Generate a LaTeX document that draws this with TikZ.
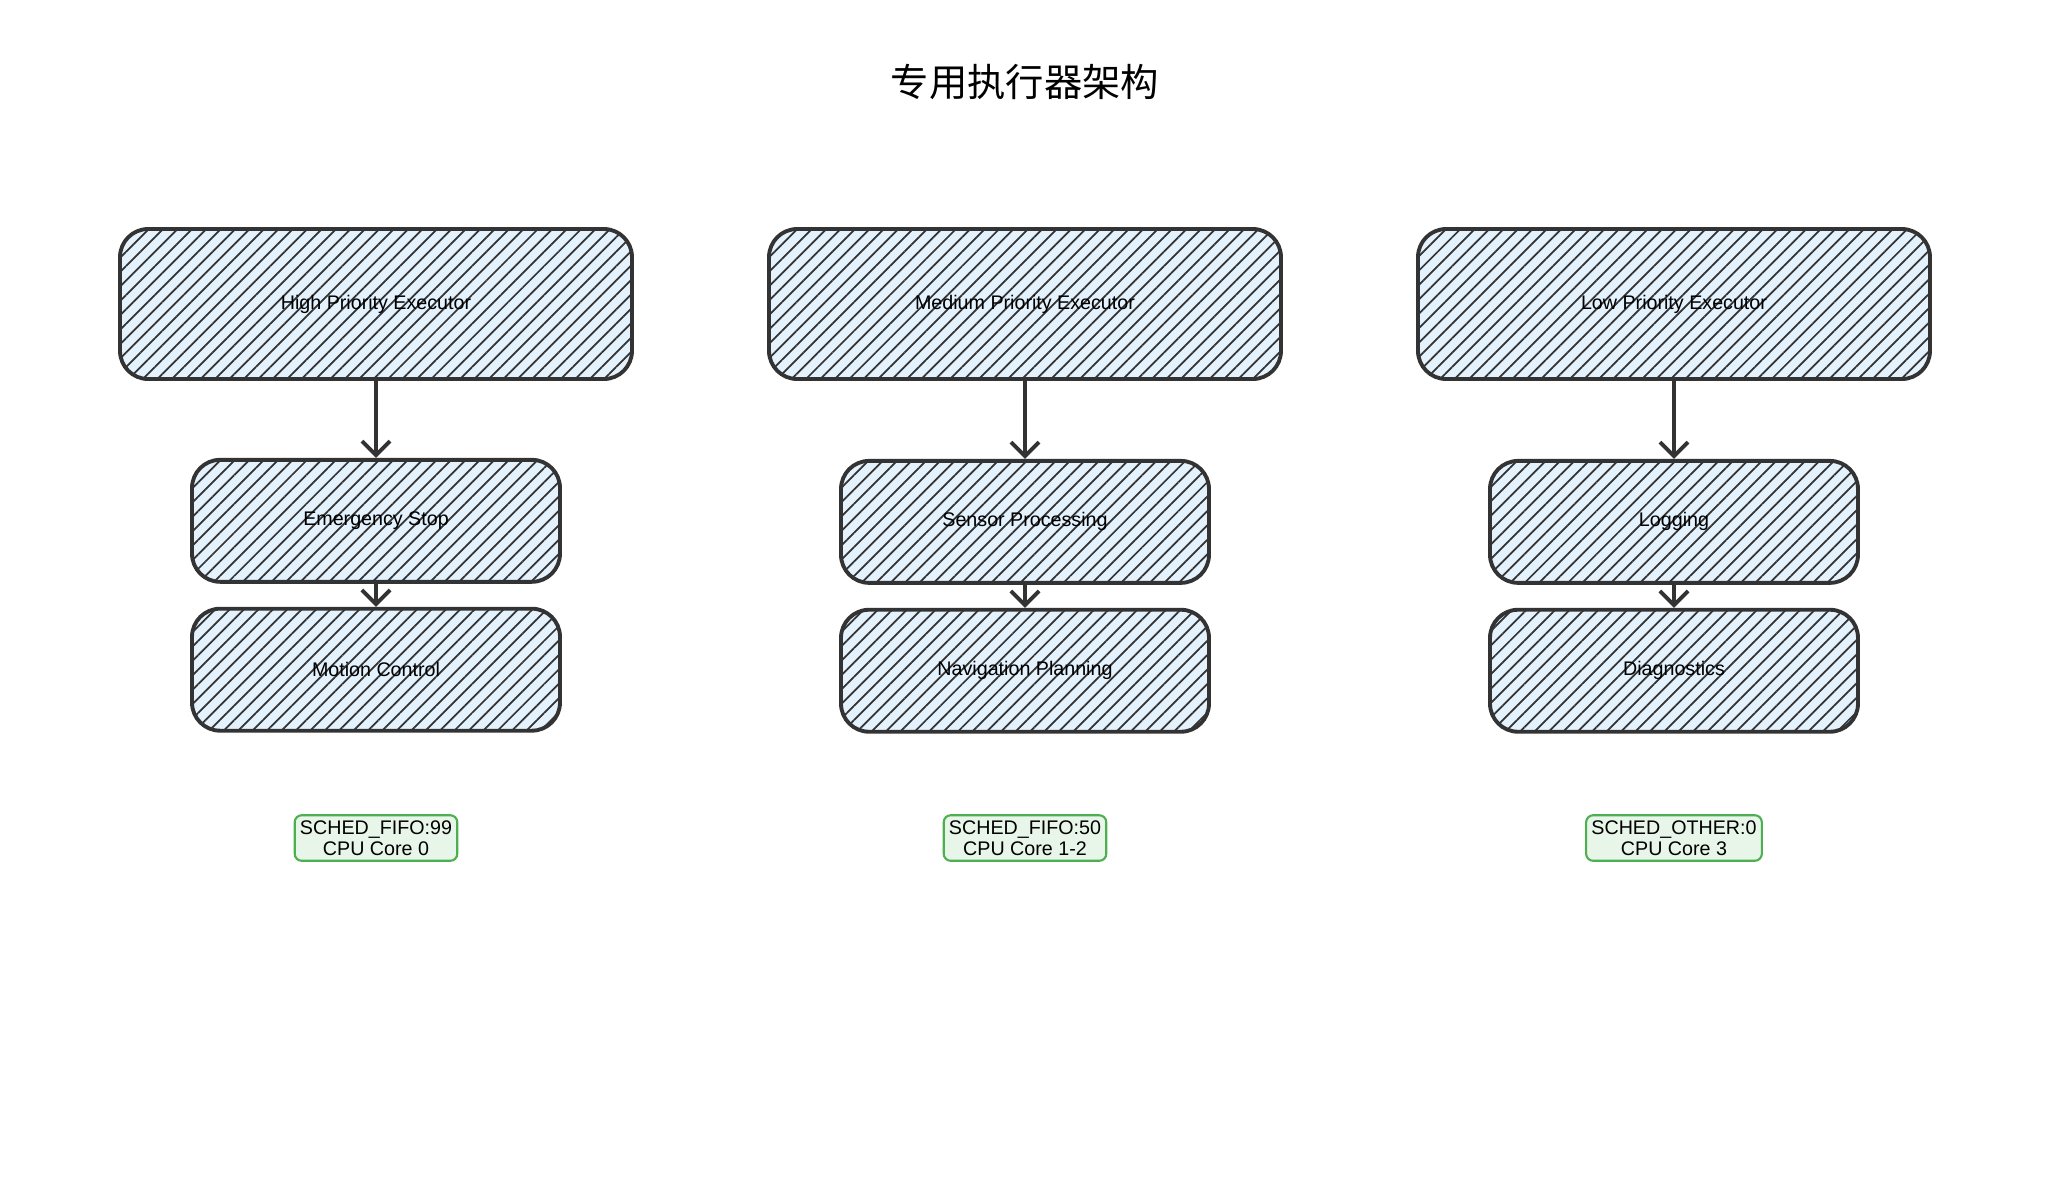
\documentclass[tikz,border=0pt]{standalone}
\usepackage{fontspec}
\setmainfont{Liberation Sans}
\newfontfamily\cjk{Noto Sans CJK SC}
\usetikzlibrary{arrows.meta,patterns.meta,positioning}
\definecolor{edgegray}{HTML}{333333}
\definecolor{execblue}{HTML}{E3F2FD}
\definecolor{tagline}{HTML}{4CAF50}
\definecolor{tagfill}{HTML}{E8F5E9}
\tikzset{
  hatched/.style = {draw = edgegray, line width = 1.1pt, rounded corners = 8pt,
    preaction = {fill = execblue},
    pattern = {Lines[angle = 45, distance = 2.9pt, line width = 0.5pt]},
    pattern color = edgegray, font = \fontsize{5.6}{6}\selectfont},
  executor/.style = {hatched, minimum width = 5.12cm, minimum height = 1.5cm},
  task/.style = {hatched, minimum width = 3.68cm, minimum height = 1.22cm},
  sched/.style = {draw = tagline, fill = tagfill, line width = 0.6pt, rounded corners = 2pt,
    align = center, inner sep = 1.5pt, font = \fontsize{5.6}{6}\selectfont},
  flow/.style = {-{Straight Barb[length = 4pt, width = 8pt]}, draw = edgegray, line width = 1.1pt}
}
\begin{document}
\begin{tikzpicture}
    \useasboundingbox (0,0) rectangle (20.51,-11.85);
    \node[font = \cjk\fontsize{10.9}{12}\selectfont] (title) at (10.25,-0.82) {专用执行器架构};
    % executors
    \node[executor] (high) at (3.76,-3.04) {High Priority Executor};
    \node[executor] (medium) at (10.25,-3.04) {Medium Priority Executor};
    \node[executor] (low) at (16.74,-3.04) {Low Priority Executor};
    % tasks
    \node[task, below = 0.78cm of high] (estop) {Emergency Stop};
    \node[task, below = 0.23cm of estop] (motion) {Motion Control};
    \node[task, below = 0.78cm of medium] (sensor) {Sensor Processing};
    \node[task, below = 0.23cm of sensor] (nav) {Navigation Planning};
    \node[task, below = 0.78cm of low] (logging) {Logging};
    \node[task, below = 0.23cm of logging] (diag) {Diagnostics};
    \draw[flow] (high) -- (estop);
    \draw[flow] (estop) -- (motion);
    \draw[flow] (medium) -- (sensor);
    \draw[flow] (sensor) -- (nav);
    \draw[flow] (low) -- (logging);
    \draw[flow] (logging) -- (diag);
    % scheduling
    \node[sched] (fifohigh) at (3.76,-8.38) {SCHED\_FIFO:99\\CPU Core 0};
    \node[sched] (fifomed) at (10.25,-8.38) {SCHED\_FIFO:50\\CPU Core 1-2};
    \node[sched] (other) at (16.74,-8.38) {SCHED\_OTHER:0\\CPU Core 3};
\end{tikzpicture}
\end{document}
